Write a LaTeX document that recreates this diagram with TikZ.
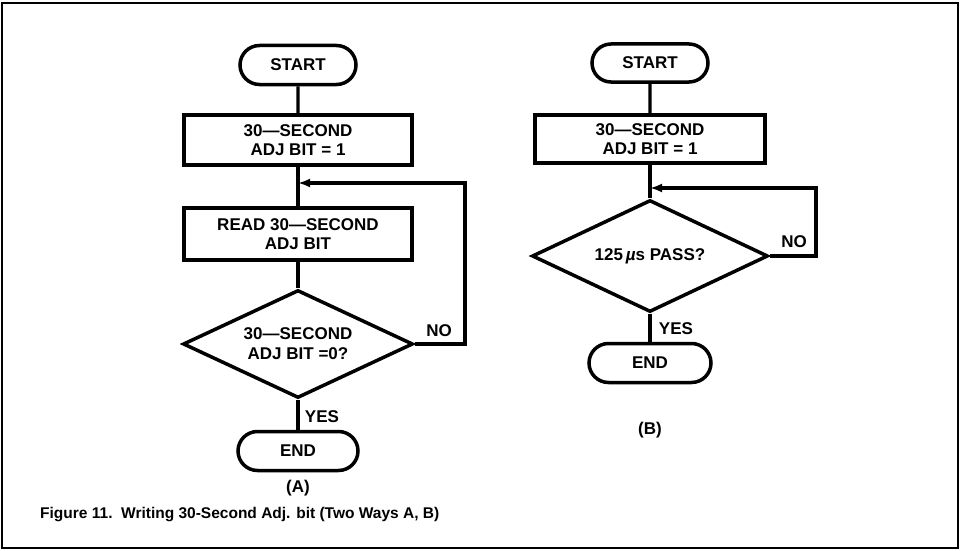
\documentclass[tikz,border=0pt]{standalone}
\usepackage{fontspec}
\setmainfont{Liberation Sans}
\usepackage{tikz}
\usetikzlibrary{shapes.geometric,shapes.misc,arrows.meta}

\begin{document}
\begin{tikzpicture}[x=1pt,y=-1pt,
			termbox/.style={rounded rectangle,draw,line width=3.5pt,minimum height=39pt,inner sep=0pt,font=\bfseries\fontsize{17}{19}\selectfont},
			procbox/.style={rectangle,draw,line width=3.5pt,minimum width=228pt,minimum height=50pt,inner sep=0pt,align=center,font=\bfseries\fontsize{17}{19}\selectfont},
			decbox/.style={diamond,draw,line width=3.5pt,inner sep=0pt,shape aspect=2.2,align=center,font=\bfseries\fontsize{17}{20}\selectfont},
			flowline/.style={line width=3.2pt},
			backline/.style={line width=3.2pt,-{Latex[length=12pt,width=9pt]}},
			lbl/.style={inner sep=0pt,font=\bfseries\fontsize{17}{19}\selectfont},
			]
			% 取参数
			\def\xa{298}
			\def\xb{650}
			
			% 边框
			\useasboundingbox (0,0) rectangle (961,551);
			\draw[line width=1.5pt] (2,3) rectangle (958,548);
			
			% 方案 A
			\node[termbox,minimum width=116pt] (startA) at (\xa,65) {START};
			\node[procbox] (setA) at (\xa,140) {30---SECOND\\ADJ BIT = 1};
			\node[procbox,minimum height=52pt] (readA) at (\xa,234) {READ 30---SECOND\\ADJ BIT};
			\node[decbox,minimum width=230pt,minimum height=108pt] (testA) at (\xa,344) {30---SECOND\\ADJ BIT =0?};
			\node[termbox,minimum width=120pt] (endA) at (\xa,451) {END};
			\node[lbl] (capA) at (\xa,488) {(A)};
			
			\draw[flowline] (startA) -- (setA);
			\draw[flowline] (setA) -- (readA);
			\draw[flowline] (readA) -- (testA);
			\draw[flowline] (testA) -- (endA);
			
			% 回路 A
			\coordinate (joinA) at (\xa,183);
			\coordinate (loopA) at (465,183);
			\draw[backline] (testA.east) -| (loopA) -- (joinA);
			\node[lbl] (noA) at (439,331) {NO};
			\node[lbl] (yesA) at (322,417) {YES};
			
			% 方案 B
			\node[termbox,minimum width=116pt,minimum height=38pt] (startB) at (\xb,63) {START};
			\node[procbox,minimum width=230pt,minimum height=48pt] (setB) at (\xb,139) {30---SECOND\\ADJ BIT = 1};
			\node[decbox,minimum width=236pt,minimum height=112pt] (testB) at (\xb,256) {125\,{\itshape µ}s PASS?};
			\node[termbox,minimum width=122pt] (endB) at (\xb,363) {END};
			\node[lbl] (capB) at (\xb,430) {(B)};
			
			\draw[flowline] (startB) -- (setB);
			\draw[flowline] (setB) -- (testB);
			\draw[flowline] (testB) -- (endB);
			
			% 回路 B
			\coordinate (joinB) at (\xb,188);
			\coordinate (loopB) at (816,188);
			\draw[backline] (testB.east) -| (loopB) -- (joinB);
			\node[lbl] (noB) at (794,242) {NO};
			\node[lbl] (yesB) at (676,329) {YES};
			
			% 图题
			\node[anchor=west,inner sep=0pt,font=\bfseries\fontsize{15.5}{18}\selectfont] (title) at (40,515) {Figure 11.\ \ Writing 30-Second Adj. bit (Two Ways A, B)};
		\end{tikzpicture}
\end{document}
